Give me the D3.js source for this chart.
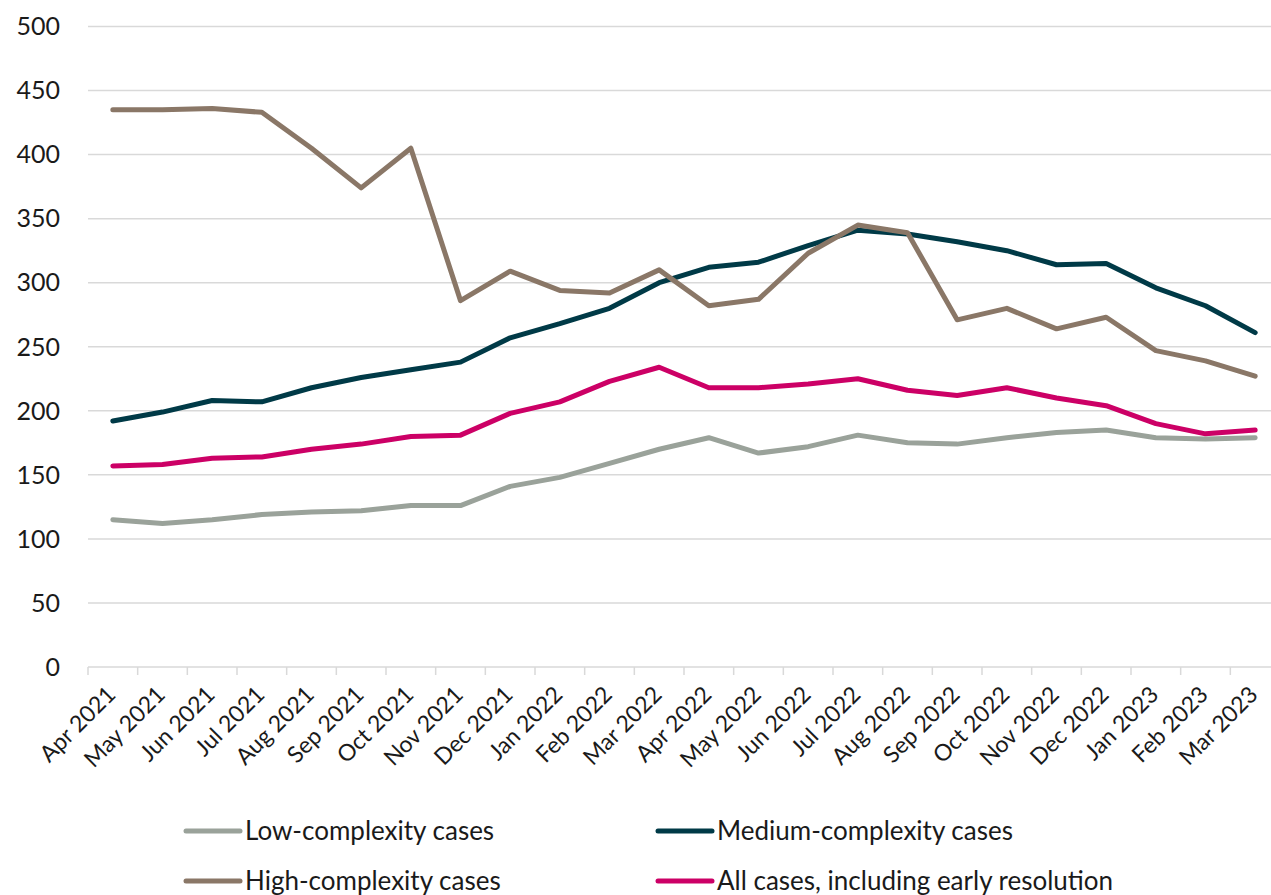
<!DOCTYPE html>
<html><head><meta charset="utf-8">
<script src="https://cdn.jsdelivr.net/npm/d3@7"></script>
<style>body{margin:0;background:#fff;} text{font-family:Lato,"Noto Sans",sans-serif;fill:#1a1a1a;}</style>
</head><body><svg id="c" width="1271" height="895"></svg>
<script>
const months = ["Apr 2021","May 2021","Jun 2021","Jul 2021","Aug 2021","Sep 2021","Oct 2021","Nov 2021","Dec 2021","Jan 2022","Feb 2022","Mar 2022","Apr 2022","May 2022","Jun 2022","Jul 2022","Aug 2022","Sep 2022","Oct 2022","Nov 2022","Dec 2022","Jan 2023","Feb 2023","Mar 2023"];
const lowCases = [115,112,115,119,121,122,126,126,141,148,159,170,179,167,172,181,175,174,179,183,185,179,178,179];
const mediumCases = [192,199,208,207,218,226,232,238,257,268,280,300,312,316,329,341,338,332,325,314,315,296,282,261];
const highCases = [435,435,436,433,405,374,405,286,309,294,292,310,282,287,323,345,339,271,280,264,273,247,239,227];
const allCases = [157,158,163,164,170,174,180,181,198,207,223,234,218,218,221,225,216,212,218,210,204,190,182,185];
const yTicks = [0,50,100,150,200,250,300,350,400,450,500];
const seriesNames = ["Low-complexity cases","Medium-complexity cases","High-complexity cases","All cases, including early resolution"];
const seriesColors = ["#9aa29a","#003a47","#8a7767","#cc0066"];

const series = [lowCases, mediumCases, highCases, allCases].map((v,i)=>({name:seriesNames[i],color:seriesColors[i],values:v}));

const svg = d3.select("#c");
const x = d3.scaleBand().domain(months).range([88,1280]);
const y = d3.scaleLinear().domain([0,500]).range([667,26.5]);

// gridlines
svg.append("g").selectAll("line").data(yTicks.filter(d=>d>0)).join("line")
  .attr("x1",88).attr("x2",1271).attr("y1",d=>y(d)).attr("y2",d=>y(d))
  .attr("stroke","#d9d9d9").attr("stroke-width",1.5);

// y axis labels
svg.append("g").selectAll("text").data(yTicks).join("text")
  .attr("x",60).attr("y",d=>y(d)).attr("dy","0.35em").attr("text-anchor","end")
  .attr("font-size",25).text(d=>d);

// x axis
const gx = svg.append("g").attr("transform",`translate(0,${y(0)})`);
gx.append("line").attr("x1",88).attr("x2",1271).attr("y1",0).attr("y2",0).attr("stroke","#d9d9d9").attr("stroke-width",1.5);
const tickPos = months.map(m=>x(m)).concat([x.range()[1]]);
gx.selectAll("line.t").data(tickPos).join("line").attr("class","t")
  .attr("x1",d=>d).attr("x2",d=>d).attr("y1",0).attr("y2",8)
  .attr("stroke","#d9d9d9").attr("stroke-width",1.5);
gx.selectAll("text").data(months).join("text")
  .attr("text-anchor","end").attr("font-size",23)
  .attr("transform",d=>`translate(${x(d)+x.bandwidth()/2+4},${29}) rotate(-45)`)
  .text(d=>d);

// lines
const line = d3.line().x((d,i)=>x(months[i])+x.bandwidth()/2).y(d=>y(d));
svg.append("g").selectAll("path").data(series).join("path")
  .attr("d",d=>line(d.values)).attr("fill","none").attr("stroke",d=>d.color)
  .attr("stroke-width",5).attr("stroke-linejoin","round").attr("stroke-linecap","round");

// legend
const legPos = [[186,831],[658,831],[186,881],[658,881]];
const lg = svg.append("g").selectAll("g").data(series).join("g")
  .attr("transform",(d,i)=>`translate(${legPos[i][0]},${legPos[i][1]})`);
lg.append("line").attr("x1",0).attr("x2",54).attr("stroke",d=>d.color).attr("stroke-width",5).attr("stroke-linecap","round");
lg.append("text").attr("x",59).attr("dy","0.35em").attr("font-size",26).text(d=>d.name);
</script></body></html>
